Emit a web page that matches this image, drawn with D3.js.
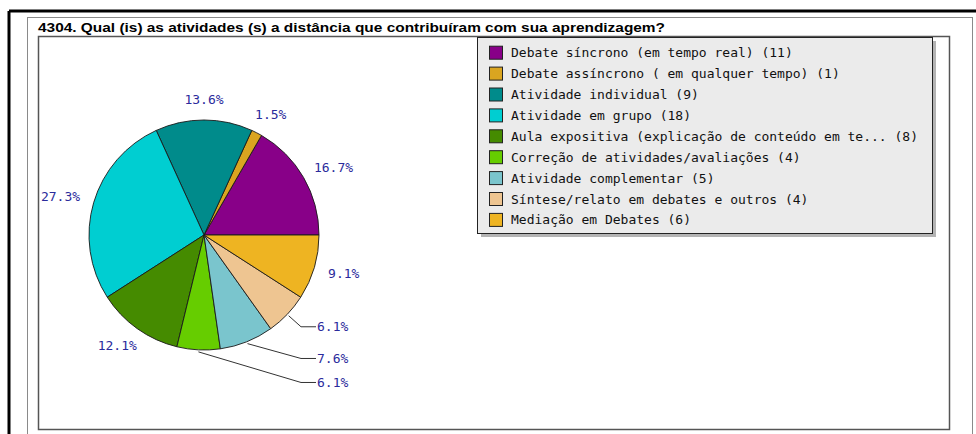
<!DOCTYPE html>
<html>
<head>
<meta charset="utf-8">
<script src="https://cdnjs.cloudflare.com/ajax/libs/d3/7.8.5/d3.min.js"></script>
<style>
  body { margin: 0; background: #ffffff; }
  text { font-family: "DejaVu Sans Mono", monospace; font-size: 13px; }
</style>
</head>
<body>
<div id="chart"></div>
<script>
// chart data
var title = "4304. Qual (is) as atividades (s) a distância que contribuíram com sua aprendizagem?";

var categories = [
  "Debate síncrono (em tempo real)",
  "Debate assíncrono ( em qualquer tempo)",
  "Atividade individual",
  "Atividade em grupo",
  "Aula expositiva (explicação de conteúdo em te...",
  "Correção de atividades/avaliações",
  "Atividade complementar",
  "Síntese/relato em debates e outros",
  "Mediação em Debates"
];

var counts = [11, 1, 9, 18, 8, 4, 5, 4, 6];

var sliceColors = ["#880088", "#daa520", "#008b8b", "#00ced1", "#458b00",
                   "#66cd00", "#7ac5cd", "#eec591", "#eeb422"];

var width = 976;
var height = 434;

var cx = 204;
var cy = 235;
var radius = 115;

var total = d3.sum(counts);
var fmt = d3.format(".1f");

var svg = d3.select("#chart")
            .append("svg")
            .attr("width", width)
            .attr("height", height);

// frame: thick black edge, grey panel, plot box
svg.append("line")
   .attr("x1", 9).attr("y1", 11).attr("x2", 976).attr("y2", 11)
   .style("stroke", "#000").style("stroke-width", 3);
svg.append("line")
   .attr("x1", 9).attr("y1", 11).attr("x2", 9).attr("y2", height)
   .style("stroke", "#000").style("stroke-width", 3);

svg.append("rect")
   .attr("x", 27.5).attr("y", 17.5)
   .attr("width", 945).attr("height", 430)
   .style("fill", "#fff")
   .style("stroke", "#8a8a8a");

svg.append("rect")
   .attr("x", 38.5).attr("y", 36.5)
   .attr("width", 911).attr("height", 393)
   .style("fill", "#fff")
   .style("stroke", "#555")
   .style("stroke-width", 1.5);

svg.append("text")
   .attr("x", 38)
   .attr("y", 32)
   .attr("textLength", 627)
   .attr("lengthAdjust", "spacingAndGlyphs")
   .style("font-family", "'Liberation Sans', Arial, sans-serif")
   .style("font-weight", "bold")
   .style("font-size", "13px")
   .style("fill", "#000")
   .text(title);

// pie, counterclockwise from 3 o'clock
var pie = d3.pie()
            .sort(null)
            .value(function(d) { return d; })
            .startAngle(Math.PI / 2)
            .endAngle(Math.PI / 2 - 2 * Math.PI);

var arc = d3.arc().innerRadius(0).outerRadius(radius);

var arcs = pie(counts);

var g = svg.append("g")
           .attr("transform", "translate(" + cx + "," + cy + ")");

g.selectAll("path")
 .data(arcs)
 .enter().append("path")
   .attr("d", arc)
   .style("fill", function(d, i) { return sliceColors[i]; })
   .style("stroke", "#1a1a1a")
   .style("stroke-width", 0.9);

// labels
var labelColor = "#2b2b9c";
var leaders = [];

arcs.forEach(function(d, i) {
    var m = (d.startAngle + d.endAngle) / 2;
    var s = Math.sin(m);
    var c = -Math.cos(m);
    var pct = d.value / total * 100;
    var label = fmt(pct) + "%";

    if (pct < 8 && c > 0) {
        leaders.push({m: m, label: label, y: cy + 133 * c});
        return;
    }

    var t = svg.append("text")
               .style("fill", labelColor)
               .attr("text-anchor", "middle")
               .text(label);
    var w = t.node().getComputedTextLength();
    var lx = cx + 130 * s + (w / 2) * s;
    var ly = cy + 130 * c + 6 * c;
    t.attr("x", lx).attr("y", ly + 4.5);
});

// small slices at the bottom get stacked labels with leader lines
leaders.sort(function(a, b) { return a.y - b.y; });
for (var k = 1; k < leaders.length; k++) {
    if (leaders[k].y < leaders[k - 1].y + 24) {
        leaders[k].y = leaders[k - 1].y + 24;
    }
}

leaders.forEach(function(l) {
    var sx = cx + (radius + 2) * Math.sin(l.m);
    var sy = cy - (radius + 2) * Math.cos(l.m);
    svg.append("polyline")
       .attr("points", [[sx, sy], [cx + radius - 18, l.y], [cx + radius - 3, l.y]].join(" "))
       .style("fill", "none")
       .style("stroke", "#333")
       .style("stroke-width", 1);
    svg.append("text")
       .attr("x", cx + radius - 2)
       .attr("y", l.y + 4.5)
       .style("fill", labelColor)
       .text(l.label);
});

// legend
var legendX = 477;
var legendY = 37;
var legendW = 455;
var legendH = 196;
var rowH = 20.9;

svg.append("rect")
   .attr("x", legendX + 4).attr("y", legendY + 4)
   .attr("width", legendW).attr("height", legendH)
   .style("fill", "#b4b4b4");

svg.append("rect")
   .attr("x", legendX + 0.5).attr("y", legendY + 0.5)
   .attr("width", legendW).attr("height", legendH)
   .style("fill", "#ebebeb")
   .style("stroke", "#222");

var items = svg.append("g")
               .attr("class", "legend")
             .selectAll("g")
               .data(categories)
             .enter().append("g")
               .attr("transform", function(d, i) {
                   return "translate(0," + (legendY + 15.7 + i * rowH) + ")"; });

items.append("rect")
     .attr("x", 489.5).attr("y", -6.5)
     .attr("width", 13).attr("height", 13)
     .style("fill", function(d, i) { return sliceColors[i]; })
     .style("stroke", "#222");

items.append("text")
     .attr("x", 511)
     .attr("y", 4.5)
     .style("fill", "#111")
     .text(function(d, i) { return d + " (" + counts[i] + ")"; });
</script>
</body>
</html>
